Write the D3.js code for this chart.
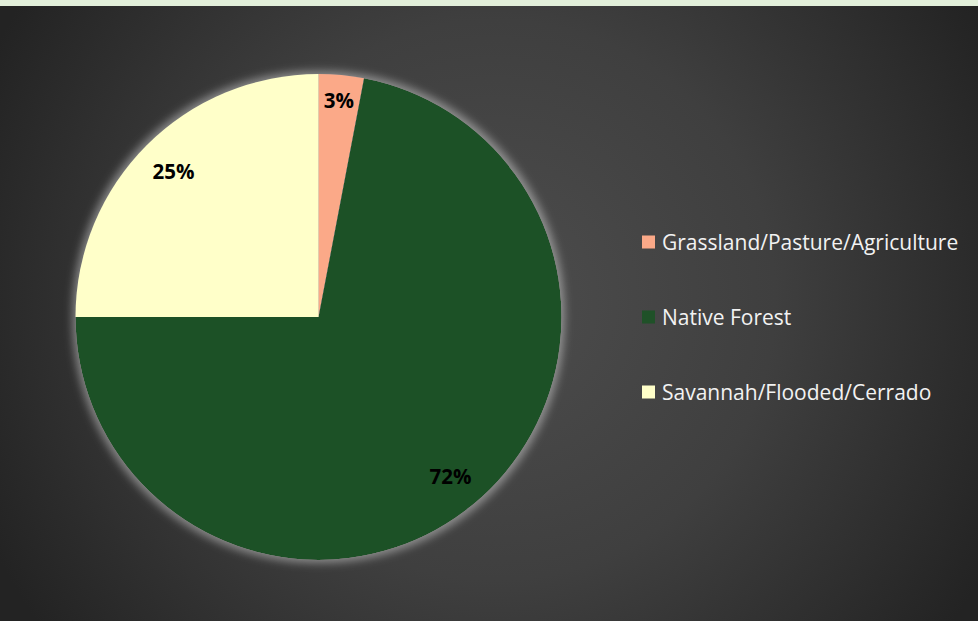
<!DOCTYPE html>
<html><head><meta charset="utf-8">
<script src="https://cdn.jsdelivr.net/npm/d3@7"></script>
<style>html,body{margin:0;padding:0;background:#E2EFDA;overflow:hidden}</style>
</head><body>
<script>
const categories = ["Grassland/Pasture/Agriculture", "Native Forest", "Savannah/Flooded/Cerrado"];
const values = [3, 72, 25];
const labels = ["3%", "72%", "25%"];
const colors = ["#FBA988", "#1F5128", "#FFFFC9"];

const W = 978, H = 621;
const svg = d3.select("body").append("svg").attr("width", W).attr("height", H);
const defs = svg.append("defs");
const grad = defs.append("radialGradient").attr("id","bg")
  .attr("gradientUnits","userSpaceOnUse").attr("cx",495).attr("cy",300).attr("r",560);
grad.append("stop").attr("offset","0").attr("stop-color","#4d4d4d");
grad.append("stop").attr("offset","0.5").attr("stop-color","#3f3f3f");
grad.append("stop").attr("offset","1").attr("stop-color","#232323");

const glow = defs.append("filter").attr("id","glow").attr("x","-20%").attr("y","-20%").attr("width","140%").attr("height","140%");
glow.append("feMorphology").attr("in","SourceAlpha").attr("operator","dilate").attr("radius",3).attr("result","d");
glow.append("feGaussianBlur").attr("in","d").attr("stdDeviation",4).attr("result","b");
glow.append("feFlood").attr("flood-color","#ffffff").attr("flood-opacity",0.4);
glow.append("feComposite").attr("in2","b").attr("operator","in").attr("result","g");
const fm = glow.append("feMerge");
fm.append("feMergeNode").attr("in","g");
fm.append("feMergeNode").attr("in","SourceGraphic");

svg.append("rect").attr("x",0).attr("y",6).attr("width",W).attr("height",H-6).attr("fill","url(#bg)");

const cx = 318.5, cy = 317, R = 243;
const pie = d3.pie().sort(null).value(d => d)(values);
const arc = d3.arc().innerRadius(0).outerRadius(R);
const g = svg.append("g").attr("transform",`translate(${cx},${cy})`);
g.append("g").attr("filter","url(#glow)").selectAll("path").data(pie).join("path")
  .attr("d", arc).attr("fill", (d,i) => colors[i]);

const labelR = [217, 207, 205];
g.selectAll("text").data(pie).join("text")
  .attr("transform", (d,i) => {
    const a = (d.startAngle + d.endAngle)/2;
    return `translate(${Math.sin(a)*labelR[i]},${-Math.cos(a)*labelR[i]})`;
  })
  .attr("text-anchor","middle").attr("dy","0.36em")
  .attr("font-family","'Open Sans', sans-serif").attr("font-weight","bold")
  .attr("font-size",20.5).attr("fill","#000")
  .text((d,i) => labels[i]);

const lg = svg.append("g").attr("transform","translate(642,0)");
const ys = [242, 317, 392];
categories.forEach((c,i) => {
  lg.append("rect").attr("x",0).attr("y",ys[i]-6.5).attr("width",13).attr("height",13).attr("fill",colors[i]);
  lg.append("text").attr("x",20).attr("y",ys[i]).attr("dy","0.36em")
    .attr("font-family","'Open Sans', sans-serif").attr("font-size",21)
    .attr("fill","#f2f2f2").text(c);
});
</script>
</body></html>
